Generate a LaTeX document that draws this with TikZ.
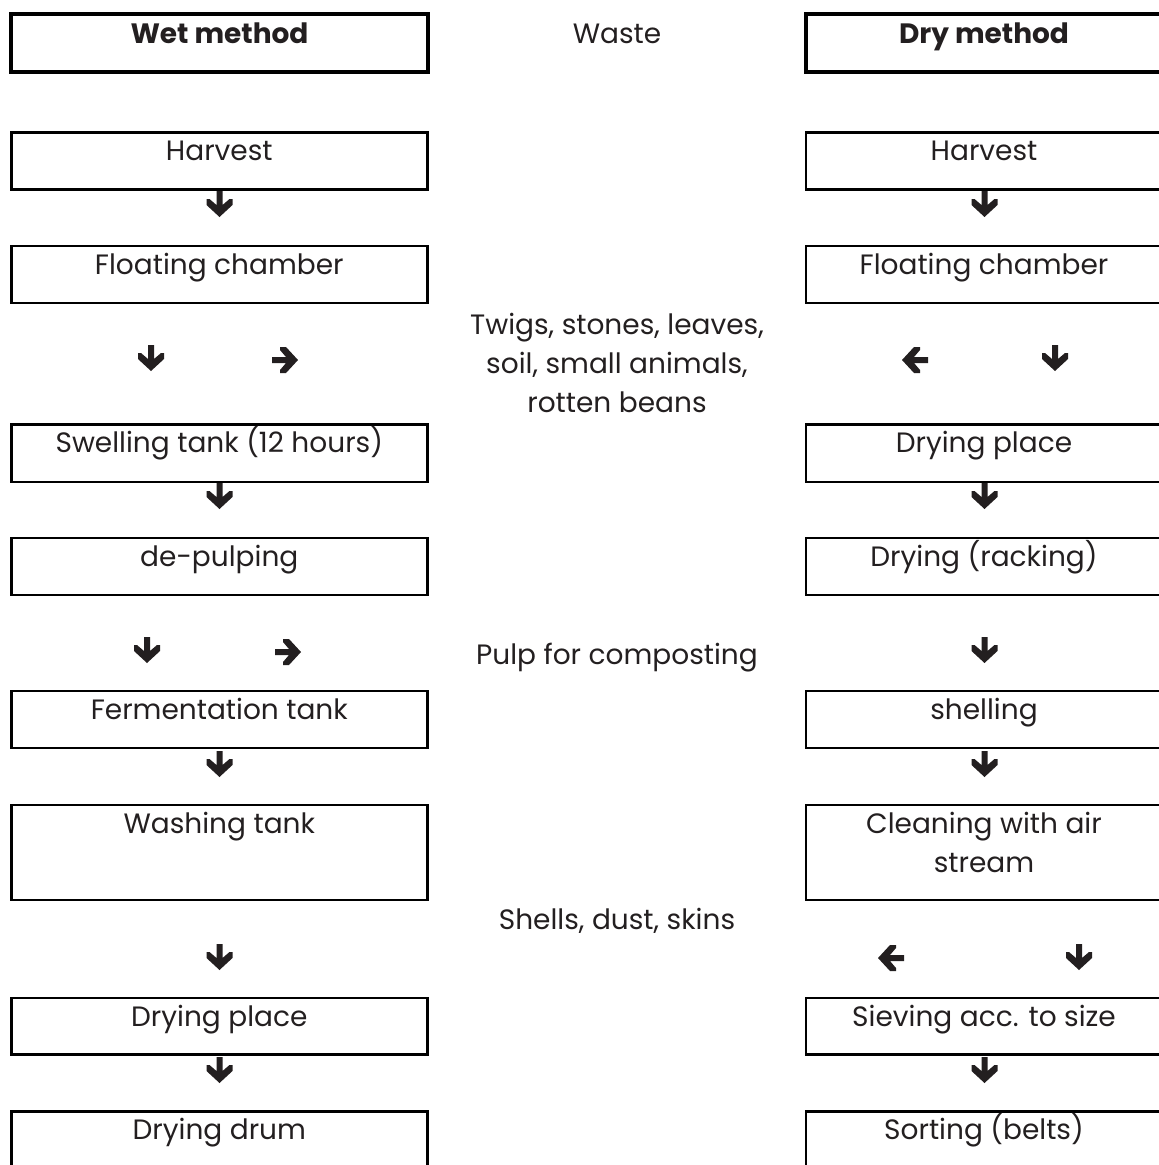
\documentclass[tikz,border=0pt]{standalone}
\usepackage{fontspec}
\setmainfont{Poppins}
\definecolor{ink}{HTML}{231F20}
\tikzset{
  lbox/.style={draw=black, line width=2.5pt, minimum width=416pt, inner sep=0pt, outer sep=0pt, anchor=north west},
  rbox/.style={lbox, minimum width=356pt},
  lhead/.style={lbox, line width=4pt, minimum width=417pt, minimum height=58pt},
  rhead/.style={lhead, minimum width=356pt},
  lbl/.style={font=\fontsize{28}{39}\selectfont, text=ink, anchor=base, inner sep=0pt, align=center},
  hlbl/.style={lbl, font=\fontsize{28}{39}\selectfont\bfseries},
  darrow/.pic={\fill[ink] (-3,-13) -- (3,-13) -- (3,1) -- (10,-5) -- (13,-5) -- (13,1) -- (0,13) -- (-13,1) -- (-13,-5) -- (-10,-5) -- (-3,1) -- cycle;}
}
\begin{document}
\begin{tikzpicture}[x=1pt, y=-1pt]
\useasboundingbox (0,0) rectangle (1159,1165);
\clip (0,0) rectangle (1159,1165);
% headers
\node[lhead] (wh) at (11,14) {};
\node[hlbl] (wht) at ([yshift=-29pt]wh.north) {Wet method};
\node[rhead] (dh) at (806,14) {};
\node[hlbl] (dht) at ([yshift=-29pt]dh.north) {Dry method};
\node[lbl] (waste) at (617,43) {Waste};
% left column
\node[lbox, minimum height=57pt] (l1) at (11.3,132.3) {};
\node[lbl] (l1t) at ([yshift=-28pt]l1.north) {Harvest};
\node[lbox, minimum height=57pt] (l2) at (11.3,246) {};
\node[lbl] (l2t) at ([yshift=-28pt]l2.north) {Floating chamber};
\node[lbox, minimum height=57.5pt] (l3) at (11.3,424.5) {};
\node[lbl] (l3t) at ([yshift=-28pt]l3.north) {Swelling tank (12 hours)};
\node[lbox, minimum height=57pt] (l4) at (11.3,538) {};
\node[lbl] (l4t) at ([yshift=-28pt]l4.north) {de-pulping};
\node[lbox, minimum height=57pt] (l5) at (11.3,691) {};
\node[lbl] (l5t) at ([yshift=-28pt]l5.north) {Fermentation tank};
\node[lbox, minimum height=95pt] (l6) at (11.3,805) {};
\node[lbl] (l6t) at ([yshift=-28pt]l6.north) {Washing tank};
\node[lbox, minimum height=56.5pt] (l7) at (11.3,998) {};
\node[lbl] (l7t) at ([yshift=-28pt]l7.north) {Drying place};
\node[lbox, minimum height=70pt] (l8) at (11.3,1111.5) {};
\node[lbl] (l8t) at ([yshift=-28pt]l8.north) {Drying drum};
% right column
\node[rbox, minimum height=57pt] (r1) at (806,132.3) {};
\node[lbl] (r1t) at ([yshift=-28pt]r1.north) {Harvest};
\node[rbox, minimum height=57pt] (r2) at (806,246) {};
\node[lbl] (r2t) at ([yshift=-28pt]r2.north) {Floating chamber};
\node[rbox, minimum height=57.5pt] (r3) at (806,424.5) {};
\node[lbl] (r3t) at ([yshift=-28pt]r3.north) {Drying place};
\node[rbox, minimum height=57pt] (r4) at (806,538) {};
\node[lbl] (r4t) at ([yshift=-28pt]r4.north) {Drying (racking)};
\node[rbox, minimum height=57pt] (r5) at (806,691) {};
\node[lbl] (r5t) at ([yshift=-28pt]r5.north) {shelling};
\node[rbox, minimum height=95pt] (r6) at (806,805) {};
\node[lbl] (r6t) at ([yshift=-67pt]r6.north) {Cleaning with air\\stream};
\node[rbox, minimum height=56.5pt] (r7) at (806,998) {};
\node[lbl] (r7t) at ([yshift=-28pt]r7.north) {Sieving acc. to size};
\node[rbox, minimum height=70pt] (r8) at (806,1111.5) {};
\node[lbl] (r8t) at ([yshift=-28pt]r8.north) {Sorting (belts)};
% waste texts
\node[lbl] (w1) at (617,412) {Twigs, stones, leaves,\\soil, small animals,\\rotten beans};
\node[lbl] (w2) at (617,664) {Pulp for composting};
\node[lbl] (w3) at (617,929) {Shells, dust, skins};
% arrows left
\pic at (219.5,204) {darrow};
\pic at (151,358) {darrow};
\pic[rotate=90] at (285,360) {darrow};
\pic at (219.5,496) {darrow};
\pic at (147,650) {darrow};
\pic[rotate=90] at (288,652) {darrow};
\pic at (219.5,764) {darrow};
\pic at (219.5,957) {darrow};
\pic at (219.5,1070) {darrow};
% arrows right
\pic at (984.5,204) {darrow};
\pic[rotate=-90] at (915,360) {darrow};
\pic at (1055,358) {darrow};
\pic at (984.5,496) {darrow};
\pic at (984.5,650) {darrow};
\pic at (984.5,764) {darrow};
\pic[rotate=-90] at (891,958) {darrow};
\pic at (1079,957) {darrow};
\pic at (984.5,1070) {darrow};
\end{tikzpicture}
\end{document}
